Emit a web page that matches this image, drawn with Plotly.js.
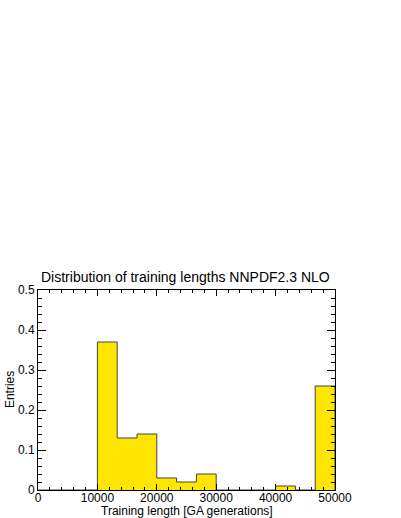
<!DOCTYPE html>
<html>
<head>
<meta charset="utf-8">
<script src="https://cdn.plot.ly/plotly-3.0.1.min.js"></script>
<style>html,body{margin:0;padding:0;background:#fff;}</style>
</head>
<body>
<div id="chart" style="width:401px;height:518px;"></div>
<script>
// Histogram: 15 bins over [0, 50000]
const xMin = 0;
const xMax = 50000;
const binEntries = [0, 0, 0, 0.37, 0.13, 0.14, 0.03, 0.02, 0.04, 0, 0, 0, 0.01, 0, 0.26];
const xTickVals = [0, 10000, 20000, 30000, 40000, 50000];
const xTickText = ["0", "10000", "20000", "30000", "40000", "50000"];
const yTickVals = [0, 0.1, 0.2, 0.3, 0.4, 0.5];
const yTickText = ["0", "0.1", "0.2", "0.3", "0.4", "0.5"];
const chartTitle = "Distribution of training lengths NNPDF2.3 NLO";
const xTitle = "Training length [GA generations]";
const yTitle = "Entries";

const nBins = binEntries.length;
const binW = (xMax - xMin) / nBins;
const edges = [];
const stepY = [];
for (let i = 0; i <= nBins; i++) {
  edges.push(xMin + i * binW);
  stepY.push(i < nBins ? binEntries[i] : 0);
}

const font = {family: "Liberation Sans, Arial, sans-serif", size: 12, color: "#000"};

const trace = {
  type: "scatter",
  mode: "lines",
  x: edges,
  y: stepY,
  line: {shape: "hv", color: "#444", width: 1},
  fill: "tozeroy",
  fillcolor: "#ffe600",
  hoverinfo: "skip"
};

const axisCommon = {
  showgrid: false,
  zeroline: false,
  showline: true,
  linecolor: "#000",
  linewidth: 1,
  mirror: "allticks",
  ticks: "inside",
  tickcolor: "#000",
  tickwidth: 1,
  tickfont: font,
  tickmode: "array"
};

const layout = {
  width: 401,
  height: 518,
  margin: {l: 38, r: 66, t: 290, b: 28},
  paper_bgcolor: "#fff",
  plot_bgcolor: "#fff",
  showlegend: false,
  font: font,
  xaxis: Object.assign({}, axisCommon, {
    range: [xMin, xMax],
    tickvals: xTickVals,
    ticktext: xTickText,
    ticklen: 6,
    ticklabelstandoff: -3,
    minor: {ticks: "inside", ticklen: 3, dtick: 2000, tickcolor: "#000", showgrid: false}
  }),
  yaxis: Object.assign({}, axisCommon, {
    range: [0, 0.5],
    tickvals: yTickVals,
    ticktext: yTickText,
    ticklen: 8,
    minor: {ticks: "inside", ticklen: 4, dtick: 0.02, tickcolor: "#000", showgrid: false}
  }),
  annotations: [
    {text: chartTitle, xref: "paper", yref: "paper", x: 0.005, y: 1.065,
     xanchor: "left", yanchor: "middle", showarrow: false,
     font: {family: font.family, size: 14, color: "#000"}},
    {text: xTitle, xref: "paper", yref: "paper", x: 0.5, y: -0.105,
     xanchor: "center", yanchor: "middle", showarrow: false, font: font},
    {text: yTitle, xref: "paper", yref: "paper", x: -0.094, y: 0.5,
     xanchor: "center", yanchor: "middle", textangle: -90, showarrow: false, font: font}
  ]
};

Plotly.newPlot("chart", [trace], layout, {displayModeBar: false, staticPlot: true});
</script>
</body>
</html>
